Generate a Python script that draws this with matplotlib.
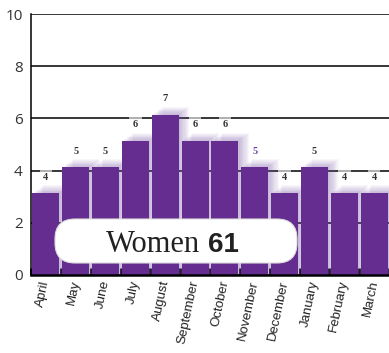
import matplotlib
matplotlib.use("Agg")
import matplotlib.pyplot as plt
from matplotlib.patches import FancyBboxPatch
import numpy as np

months = ["April", "May", "June", "July", "August", "September", "October",
          "November", "December", "January", "February", "March"]
counts = [4, 5, 5, 6, 7, 6, 6, 5, 4, 5, 4, 4]
title_word = "Women"
total = sum(counts)

BAR_COLOR = "#652D90"
SHADOW_COLOR = "#7a55a8"
BASE = -0.87  # bars are drawn up from a baseline below the visible zero line

fig = plt.figure(figsize=(3.89, 3.53), dpi=100)
ax = fig.add_axes([31 / 389, 1 - 275 / 353, 1 - 31 / 389, (275 - 14) / 353])

x = np.arange(len(months))
vals = np.array(counts, dtype=float)

# soft purple glow to the right of each bar
for k in range(1, 10):
    ax.bar(x + 0.04 * k, vals + 0.035 * k, width=0.9, bottom=BASE,
           color=SHADOW_COLOR, alpha=0.05, linewidth=0, zorder=1)

ax.bar(x, vals, width=0.9, bottom=BASE, color=BAR_COLOR, linewidth=0, zorder=3)

# value labels
for i, v in enumerate(counts):
    col = "#7040a0" if months[i] == "November" else "#333333"
    ax.text(i, v + BASE + 0.62, str(v), ha="center", va="center",
            fontsize=7.5, fontweight="bold", family="Liberation Serif",
            color=col, zorder=4,
            bbox=dict(boxstyle="square,pad=0.35", fc="white", ec="none", alpha=0.6))

ax.set_xlim(-0.5, len(months) - 0.5)
ax.set_ylim(0, 10)
ax.set_yticks([0, 2, 4, 6, 8, 10])
ax.yaxis.grid(True, color="black", linewidth=1.1, zorder=0)
ax.set_axisbelow(True)
ax.tick_params(axis="y", length=0, pad=6, labelsize=11, labelcolor="#333333")
for lbl in ax.get_yticklabels():
    lbl.set_family("Open Sans")

ax.set_xticks(x)
ax.set_xticklabels(months, rotation=78, ha="right", va="center",
                   rotation_mode="anchor", fontsize=9.5, family="Liberation Sans",
                   color="#222222")
ax.tick_params(axis="x", length=0, pad=4)
ax.set_xticks(np.arange(-0.5, len(months), 1.0), minor=True)
ax.tick_params(axis="x", which="minor", direction="in", length=5, width=2,
               color="black")
for t in ax.xaxis.get_minorticklines():
    t.set_zorder(5)

for s in ["top", "right"]:
    ax.spines[s].set_visible(False)
ax.spines["left"].set_linewidth(1.1)
ax.spines["bottom"].set_linewidth(1.8)
ax.spines["bottom"].set_zorder(5)

# caption pill
pill = FancyBboxPatch((0.55, 0.90), 2.42, 0.44,
                      boxstyle="round,pad=0,rounding_size=0.2",
                      transform=fig.dpi_scale_trans, fc="white", ec="#dddddd",
                      linewidth=0.8, zorder=10)
fig.patches.append(pill)
fig.text(2.00, 1.01, title_word, transform=fig.dpi_scale_trans, ha="right",
         va="baseline", fontsize=22, family="Liberation Serif", color="#222222",
         zorder=11)
fig.text(2.08, 1.01, str(total), transform=fig.dpi_scale_trans, ha="left",
         va="baseline", fontsize=20, fontweight="bold", family="Liberation Sans",
         color="#222222", zorder=11)

fig.savefig("out.png", dpi=100)
